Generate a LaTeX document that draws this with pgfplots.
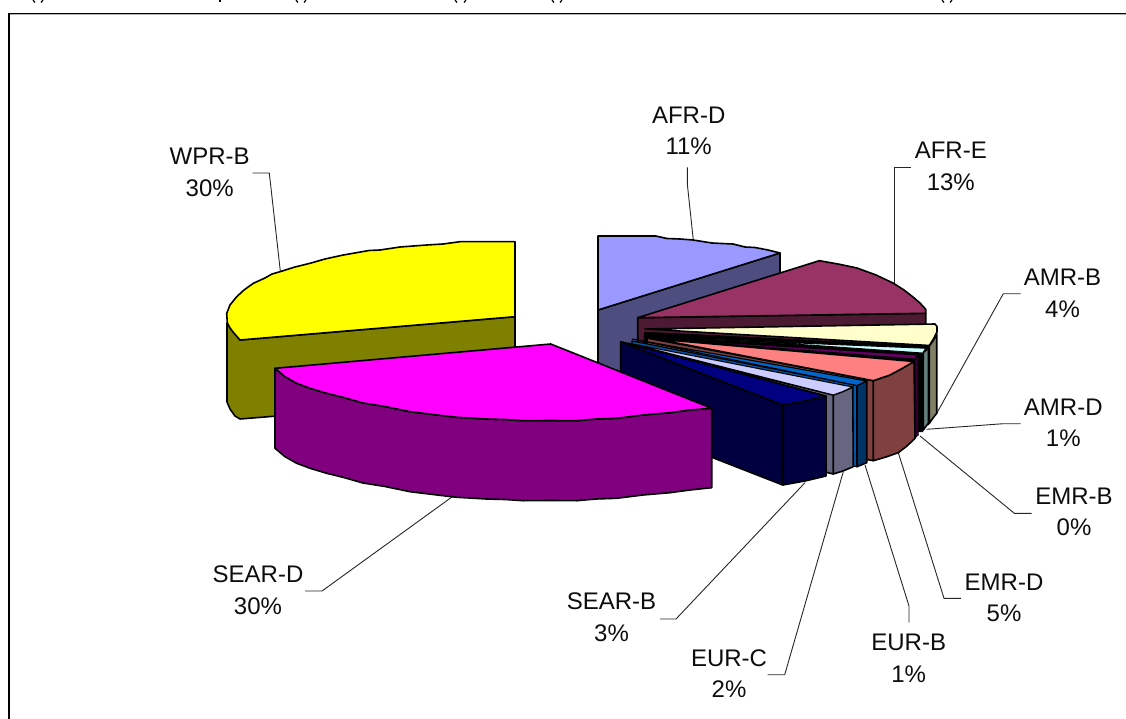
\documentclass[border=0pt]{standalone}
\usepackage{fontspec}
\setmainfont{Liberation Sans}
\usepackage{pgfplots}
\pgfplotsset{compat=1.18}
\definecolor{afrdT}{HTML}{9999FF}\definecolor{afrdS}{HTML}{4D4D80}
\definecolor{afreT}{HTML}{993366}\definecolor{afreS}{HTML}{4D1A33}
\definecolor{amrbT}{HTML}{FFFFCC}\definecolor{amrbS}{HTML}{808066}
\definecolor{amrdT}{HTML}{CCFFFF}\definecolor{amrdS}{HTML}{668080}
\definecolor{emrbT}{HTML}{660066}\definecolor{emrbS}{HTML}{330033}
\definecolor{emrdT}{HTML}{FF8080}\definecolor{emrdS}{HTML}{804040}
\definecolor{eurbT}{HTML}{0066CC}\definecolor{eurbS}{HTML}{003366}
\definecolor{eurcT}{HTML}{CCCCFF}\definecolor{eurcS}{HTML}{666680}
\definecolor{searbT}{HTML}{000080}\definecolor{searbS}{HTML}{000040}
\definecolor{seardT}{HTML}{FF00FF}\definecolor{seardS}{HTML}{800080}
\definecolor{wprbT}{HTML}{FFFF00}\definecolor{wprbS}{HTML}{808000}
\tikzset{
  sl/.style={fill=#1,draw=black,line width=1.6pt,line join=round,solid},
  lead/.style={draw=black!85,line width=0.9pt,fill=none},
  frag/.style={draw=black,line width=1.2pt,fill=none},
  lab/.style={font=\fontsize{24}{31.6}\selectfont,align=center,anchor=center,inner sep=0pt,text=black!95}
}
\begin{document}
\begin{tikzpicture}
\useasboundingbox (0,0) rectangle (1126pt,719pt);
\begin{axis}[at={(0,0)},anchor=south west,scale only axis,width=1126pt,height=719pt,xmin=0,xmax=1126,ymin=0,ymax=719,y dir=reverse,hide axis,clip=true,no markers]
% frame
\addplot[draw=black!30,line width=1pt] coordinates {(10,15) (1126,15)};
\addplot[draw=black,line width=1.3pt] coordinates {(9,719) (9,13.5) (1126,13.5)};
% clipped text of the page above
\addplot[frag] coordinates {(33,0) (35,2.5)};
\addplot[frag] coordinates {(43,0) (41,2.5)};
\addplot[draw=black,line width=2pt] coordinates {(219.5,0) (219.5,2.5)};
\addplot[frag] coordinates {(296,0) (298,2.5)};
\addplot[frag] coordinates {(306,0) (304,2.5)};
\addplot[frag] coordinates {(455,0) (457,2.5)};
\addplot[frag] coordinates {(466,0) (464,2.5)};
\addplot[frag] coordinates {(552,0) (554,2.5)};
\addplot[frag] coordinates {(562,0) (560,2.5)};
\addplot[frag] coordinates {(942,0) (944,2.5)};
\addplot[frag] coordinates {(952,0) (950,2.5)};
% leaders
\addplot[lead] coordinates {(252.7,173) (269.3,173) (280.3,271)};
\addplot[lead] coordinates {(687.3,167.3) (687.3,184) (693.3,240)};
\addplot[lead] coordinates {(911,167.3) (894,167.3) (894,283)};
\addplot[lead] coordinates {(1020.7,293.7) (1003.3,293.7) (936.7,413.3)};
\addplot[lead] coordinates {(1020.7,423.7) (1003.3,423.7) (926.7,429.3)};
\addplot[lead] coordinates {(1031.7,513.3) (1014.3,513.3) (920,436)};
\addplot[lead] coordinates {(961,598.3) (944,598.3) (898.3,452.7)};
\addplot[lead] coordinates {(909,622.7) (909,606) (865,465)};
\addplot[lead] coordinates {(767.7,674.7) (784.7,674.7) (843.3,471.7)};
\addplot[lead] coordinates {(660,619) (676,619) (805,482.7)};
\addplot[lead] coordinates {(305,591) (322,591) (453.3,496)};
% AFR-D
\addplot[sl=afrdS] coordinates {(598,310) (780,253) (780,333) (598,390)} -- cycle;
\addplot[sl=afrdT] coordinates {(598,236) (655.7,236) (667,238.5) (680,239) (693,240) (712,243) (722,243.5) (733,244) (745,247) (755,247.5) (768,250) (780,253) (598,310)} -- cycle;
% WPR-B
\addplot[sl=wprbS] coordinates {(227,323) (240,340) (515,316.7) (515,396.7) (240,419) (235,416) (230,409) (227,402)} -- cycle;
\addplot[sl=wprbT] coordinates {(515,241.7) (460,241.7) (443,244) (426.7,245) (400,247) (380,250) (369,250.5) (343.3,255) (325,259) (310,263.3) (295,267) (280,271.7) (272,274) (265,278) (253.3,283.3) (244,290) (236.7,296.7) (230,305) (226.7,313.3) (227.3,323) (230,328) (233,332) (240,340) (515,316.7)} -- cycle;
% AFR-E
\addplot[sl=afreS] coordinates {(637.7,317.7) (925.7,313.3) (925.7,393) (637.7,397.7)} -- cycle;
\addplot[sl=afreT] coordinates {(637.7,317.7) (819.3,260.7) (838,264) (857,268) (876,275) (893,283) (904,290) (913,297) (920,303) (925.7,309.3) (925.7,313.3)} -- cycle;
% AMR-B
\addplot[fill=black,draw=black] coordinates {(644,332) (929,346) (929,425) (644,412)} -- cycle;
\addplot[sl=amrbS] coordinates {(929.3,346) (933,341) (936.7,334) (936.7,413.3) (933,418) (929.3,423.3)} -- cycle;
\addplot[sl=amrbT] coordinates {(645,329) (935,324) (937,326.5) (937,332) (934,338) (929.3,345.5)} -- cycle;
% AMR-D
\addplot[sl=amrdS] coordinates {(923.3,352.7) (928.3,348) (928.3,423.3) (923.3,430)} -- cycle;
\addplot[fill=amrdT,draw=black,line width=0.9pt] coordinates {(700,339) (925.7,348.3) (922.7,353) (780,343)} -- cycle;
% EMR-B
\addplot[fill=black,draw=black] coordinates {(644,336) (923,354) (923,432) (644,416)} -- cycle;
\addplot[fill=emrbT,draw=black,line width=0.9pt] coordinates {(650,338) (917,355) (915,359) (700,342)} -- cycle;
\addplot[fill=emrbS,draw=black,line width=0.7pt] coordinates {(915,359) (918.3,356) (918.3,435) (915,438)} -- cycle;
% EMR-D
\addplot[sl=emrdS] coordinates {(647,338) (873.3,380.7) (873.3,460.7) (647,418)} -- cycle;
\addplot[sl=emrdS] coordinates {(873.3,380.7) (890,375) (902,368.5) (914,361.5) (915,438.3) (907,446) (898.3,452.7) (886,457) (873.3,460.7)} -- cycle;
\addplot[sl=emrdT] coordinates {(656,339) (914,361.5) (902,368.5) (890,375) (873.3,380.7)} -- cycle;
% EUR-B
\addplot[fill=eurbT!85!black,draw=black,line width=1.2pt] coordinates {(632,341) (857,385.5) (857,466.7) (632,422)} -- cycle;
\addplot[sl=eurbS] coordinates {(857,385.5) (866.7,380.7) (866.7,462.7) (857,466.7)} -- cycle;
\addplot[fill=eurbT,draw=black,line width=1.1pt] coordinates {(632,339) (866.5,381) (857,385.5)} -- cycle;
% EUR-C
\addplot[sl=eurcS] coordinates {(625,344) (833.3,395) (833.3,474) (625,424)} -- cycle;
\addplot[sl=eurcS] coordinates {(833.3,395) (843,391.5) (852.7,387) (853.3,466.7) (843,471) (833.3,474)} -- cycle;
\addplot[fill=eurcT,draw=black,line width=1.1pt] coordinates {(628,343) (852.7,387) (843,391.5) (833.3,395)} -- cycle;
% SEAR-B
\addplot[sl=searbS] coordinates {(620.7,341.7) (782.7,405) (782.7,485) (620.7,421.7)} -- cycle;
\addplot[sl=searbS] coordinates {(782.7,405) (805,401) (826,396) (826,476) (805,481) (782.7,485)} -- cycle;
\addplot[sl=searbT] coordinates {(620.7,341.7) (826,396) (805,401) (782.7,405)} -- cycle;
% SEAR-D
\addplot[sl=seardS] coordinates {(275,368.3) (285,376.7) (296.7,383.3) (310,388.3) (326.7,393.3) (343,397.3) (363,403) (385,406.5) (410,411.7) (433,414.5) (456.7,417.3) (486.7,419) (505,419.5) (523.3,420.7) (550,420.5) (576.7,420.7) (596,419) (616.7,418.3) (643,415) (670,412.7) (690,410) (711.7,408.3) (711.7,487.7) (690,490) (670,492.7) (643,495) (616.7,498.3) (596,499) (576.7,500.7) (550,500.5) (523.3,500.7) (505,499.5) (486.7,499) (456.7,497.3) (433,494.5) (410,491.7) (385,486.5) (363,483) (343,477.3) (326.7,473.3) (310,468.3) (296.7,463.3) (285,456.7) (275,448.3)} -- cycle;
\addplot[sl=seardT] coordinates {(550.7,344) (275,368.3) (285,376.7) (296.7,383.3) (310,388.3) (326.7,393.3) (343,397.3) (363,403) (385,406.5) (410,411.7) (433,414.5) (456.7,417.3) (486.7,419) (505,419.5) (523.3,420.7) (550,420.5) (576.7,420.7) (596,419) (616.7,418.3) (643,415) (670,412.7) (690,410) (711.7,408.3)} -- cycle;
% labels
\node[lab] at (axis cs:209.7,172.2) {WPR-B\\30\%};
\node[lab] at (axis cs:688.7,131) {AFR-D\\11\%};
\node[lab] at (axis cs:950.8,166.5) {AFR-E\\13\%};
\node[lab] at (axis cs:1062.5,293.5) {AMR-B\\4\%};
\node[lab] at (axis cs:1063.3,423) {AMR-D\\1\%};
\node[lab] at (axis cs:1074,512) {EMR-B\\0\%};
\node[lab] at (axis cs:1004,597.7) {EMR-D\\5\%};
\node[lab] at (axis cs:908.7,658.5) {EUR-B\\1\%};
\node[lab] at (axis cs:729,673.5) {EUR-C\\2\%};
\node[lab] at (axis cs:611.5,617) {SEAR-B\\3\%};
\node[lab] at (axis cs:258,590) {SEAR-D\\30\%};
\end{axis}
\end{tikzpicture}
\end{document}
